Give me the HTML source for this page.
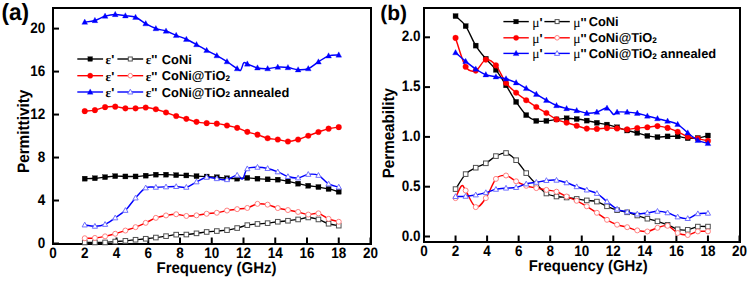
<!DOCTYPE html>
<html><head><meta charset="utf-8"><style>
html,body{margin:0;padding:0;background:#fff;width:750px;height:281px;overflow:hidden}
svg{display:block}
text{font-family:"Liberation Sans", sans-serif;fill:#000;text-rendering:geometricPrecision}
</style></head><body>
<svg width="750" height="281" viewBox="0 0 750 281">
<rect x="53.00" y="8.00" width="318.00" height="236.00" fill="none" stroke="#000" stroke-width="2"/>
<line x1="53.00" y1="243.50" x2="59.00" y2="243.50" stroke="#000" stroke-width="2"/>
<text x="0" y="0" transform="translate(45.20,247.50) scale(1,1.120)" font-size="13.50" font-weight="bold" text-anchor="end" >0</text>
<line x1="53.00" y1="200.52" x2="59.00" y2="200.52" stroke="#000" stroke-width="2"/>
<text x="0" y="0" transform="translate(45.20,204.52) scale(1,1.120)" font-size="13.50" font-weight="bold" text-anchor="end" >4</text>
<line x1="53.00" y1="157.54" x2="59.00" y2="157.54" stroke="#000" stroke-width="2"/>
<text x="0" y="0" transform="translate(45.20,161.54) scale(1,1.120)" font-size="13.50" font-weight="bold" text-anchor="end" >8</text>
<line x1="53.00" y1="114.56" x2="59.00" y2="114.56" stroke="#000" stroke-width="2"/>
<text x="0" y="0" transform="translate(45.20,118.56) scale(1,1.120)" font-size="13.50" font-weight="bold" text-anchor="end" >12</text>
<line x1="53.00" y1="71.58" x2="59.00" y2="71.58" stroke="#000" stroke-width="2"/>
<text x="0" y="0" transform="translate(45.20,75.58) scale(1,1.120)" font-size="13.50" font-weight="bold" text-anchor="end" >16</text>
<line x1="53.00" y1="28.60" x2="59.00" y2="28.60" stroke="#000" stroke-width="2"/>
<text x="0" y="0" transform="translate(45.20,32.60) scale(1,1.120)" font-size="13.50" font-weight="bold" text-anchor="end" >20</text>
<line x1="53.00" y1="244.00" x2="53.00" y2="237.50" stroke="#000" stroke-width="2"/>
<text x="0" y="0" transform="translate(53.00,257.80) scale(1,1.120)" font-size="13.50" font-weight="bold" text-anchor="middle" >0</text>
<line x1="84.75" y1="244.00" x2="84.75" y2="237.50" stroke="#000" stroke-width="2"/>
<text x="0" y="0" transform="translate(84.75,257.80) scale(1,1.120)" font-size="13.50" font-weight="bold" text-anchor="middle" >2</text>
<line x1="116.50" y1="244.00" x2="116.50" y2="237.50" stroke="#000" stroke-width="2"/>
<text x="0" y="0" transform="translate(116.50,257.80) scale(1,1.120)" font-size="13.50" font-weight="bold" text-anchor="middle" >4</text>
<line x1="148.25" y1="244.00" x2="148.25" y2="237.50" stroke="#000" stroke-width="2"/>
<text x="0" y="0" transform="translate(148.25,257.80) scale(1,1.120)" font-size="13.50" font-weight="bold" text-anchor="middle" >6</text>
<line x1="180.00" y1="244.00" x2="180.00" y2="237.50" stroke="#000" stroke-width="2"/>
<text x="0" y="0" transform="translate(180.00,257.80) scale(1,1.120)" font-size="13.50" font-weight="bold" text-anchor="middle" >8</text>
<line x1="211.75" y1="244.00" x2="211.75" y2="237.50" stroke="#000" stroke-width="2"/>
<text x="0" y="0" transform="translate(211.75,257.80) scale(1,1.120)" font-size="13.50" font-weight="bold" text-anchor="middle" >10</text>
<line x1="243.50" y1="244.00" x2="243.50" y2="237.50" stroke="#000" stroke-width="2"/>
<text x="0" y="0" transform="translate(243.50,257.80) scale(1,1.120)" font-size="13.50" font-weight="bold" text-anchor="middle" >12</text>
<line x1="275.25" y1="244.00" x2="275.25" y2="237.50" stroke="#000" stroke-width="2"/>
<text x="0" y="0" transform="translate(275.25,257.80) scale(1,1.120)" font-size="13.50" font-weight="bold" text-anchor="middle" >14</text>
<line x1="307.00" y1="244.00" x2="307.00" y2="237.50" stroke="#000" stroke-width="2"/>
<text x="0" y="0" transform="translate(307.00,257.80) scale(1,1.120)" font-size="13.50" font-weight="bold" text-anchor="middle" >16</text>
<line x1="338.75" y1="244.00" x2="338.75" y2="237.50" stroke="#000" stroke-width="2"/>
<text x="0" y="0" transform="translate(338.75,257.80) scale(1,1.120)" font-size="13.50" font-weight="bold" text-anchor="middle" >18</text>
<line x1="370.50" y1="244.00" x2="370.50" y2="237.50" stroke="#000" stroke-width="2"/>
<text x="0" y="0" transform="translate(370.50,257.80) scale(1,1.120)" font-size="13.50" font-weight="bold" text-anchor="middle" >20</text>
<rect x="424.00" y="8.00" width="316.00" height="234.00" fill="none" stroke="#000" stroke-width="2"/>
<line x1="424.00" y1="236.50" x2="430.00" y2="236.50" stroke="#000" stroke-width="2"/>
<text x="0" y="0" transform="translate(420.60,240.50) scale(1,1.120)" font-size="13.50" font-weight="bold" text-anchor="end" >0.0</text>
<line x1="424.00" y1="186.70" x2="430.00" y2="186.70" stroke="#000" stroke-width="2"/>
<text x="0" y="0" transform="translate(420.60,190.70) scale(1,1.120)" font-size="13.50" font-weight="bold" text-anchor="end" >0.5</text>
<line x1="424.00" y1="136.90" x2="430.00" y2="136.90" stroke="#000" stroke-width="2"/>
<text x="0" y="0" transform="translate(420.60,140.90) scale(1,1.120)" font-size="13.50" font-weight="bold" text-anchor="end" >1.0</text>
<line x1="424.00" y1="87.10" x2="430.00" y2="87.10" stroke="#000" stroke-width="2"/>
<text x="0" y="0" transform="translate(420.60,91.10) scale(1,1.120)" font-size="13.50" font-weight="bold" text-anchor="end" >1.5</text>
<line x1="424.00" y1="37.30" x2="430.00" y2="37.30" stroke="#000" stroke-width="2"/>
<text x="0" y="0" transform="translate(420.60,41.30) scale(1,1.120)" font-size="13.50" font-weight="bold" text-anchor="end" >2.0</text>
<line x1="424.00" y1="242.00" x2="424.00" y2="235.50" stroke="#000" stroke-width="2"/>
<text x="0" y="0" transform="translate(424.00,255.50) scale(1,1.120)" font-size="13.50" font-weight="bold" text-anchor="middle" >0</text>
<line x1="455.55" y1="242.00" x2="455.55" y2="235.50" stroke="#000" stroke-width="2"/>
<text x="0" y="0" transform="translate(455.55,255.50) scale(1,1.120)" font-size="13.50" font-weight="bold" text-anchor="middle" >2</text>
<line x1="487.10" y1="242.00" x2="487.10" y2="235.50" stroke="#000" stroke-width="2"/>
<text x="0" y="0" transform="translate(487.10,255.50) scale(1,1.120)" font-size="13.50" font-weight="bold" text-anchor="middle" >4</text>
<line x1="518.65" y1="242.00" x2="518.65" y2="235.50" stroke="#000" stroke-width="2"/>
<text x="0" y="0" transform="translate(518.65,255.50) scale(1,1.120)" font-size="13.50" font-weight="bold" text-anchor="middle" >6</text>
<line x1="550.20" y1="242.00" x2="550.20" y2="235.50" stroke="#000" stroke-width="2"/>
<text x="0" y="0" transform="translate(550.20,255.50) scale(1,1.120)" font-size="13.50" font-weight="bold" text-anchor="middle" >8</text>
<line x1="581.75" y1="242.00" x2="581.75" y2="235.50" stroke="#000" stroke-width="2"/>
<text x="0" y="0" transform="translate(581.75,255.50) scale(1,1.120)" font-size="13.50" font-weight="bold" text-anchor="middle" >10</text>
<line x1="613.30" y1="242.00" x2="613.30" y2="235.50" stroke="#000" stroke-width="2"/>
<text x="0" y="0" transform="translate(613.30,255.50) scale(1,1.120)" font-size="13.50" font-weight="bold" text-anchor="middle" >12</text>
<line x1="644.85" y1="242.00" x2="644.85" y2="235.50" stroke="#000" stroke-width="2"/>
<text x="0" y="0" transform="translate(644.85,255.50) scale(1,1.120)" font-size="13.50" font-weight="bold" text-anchor="middle" >14</text>
<line x1="676.40" y1="242.00" x2="676.40" y2="235.50" stroke="#000" stroke-width="2"/>
<text x="0" y="0" transform="translate(676.40,255.50) scale(1,1.120)" font-size="13.50" font-weight="bold" text-anchor="middle" >16</text>
<line x1="707.95" y1="242.00" x2="707.95" y2="235.50" stroke="#000" stroke-width="2"/>
<text x="0" y="0" transform="translate(707.95,255.50) scale(1,1.120)" font-size="13.50" font-weight="bold" text-anchor="middle" >18</text>
<line x1="739.50" y1="242.00" x2="739.50" y2="235.50" stroke="#000" stroke-width="2"/>
<text x="0" y="0" transform="translate(739.50,255.50) scale(1,1.120)" font-size="13.50" font-weight="bold" text-anchor="middle" >20</text>
<text x="0" y="0" transform="translate(1.40,20.30) scale(1,1.040)" font-size="22.70" font-weight="bold" text-anchor="start" >(a)</text>
<text x="0" y="0" transform="translate(380.20,19.90) scale(1,1.000)" font-size="21.00" font-weight="bold" text-anchor="start" >(b)</text>
<text x="0" y="0" transform="translate(216.50,273.40) scale(1,1.040)" font-size="15.00" font-weight="bold" text-anchor="middle" >Frequency (GHz)</text>
<text x="0" y="0" transform="translate(588.20,271.40) scale(1,1.050)" font-size="14.90" font-weight="bold" text-anchor="middle" >Frequency (GHz)</text>
<text x="0" y="0" transform="translate(28.90,131.40) rotate(-90) scale(1,1.080)" font-size="15.30" font-weight="bold" text-anchor="middle" >Permittivity</text>
<text x="0" y="0" transform="translate(393.60,133.20) rotate(-90) scale(1,1.080)" font-size="15.20" font-weight="bold" text-anchor="middle" >Permeability</text>
<path d="M84.75 178.65 C86.44 178.58 91.52 178.50 94.91 178.25 C98.30 178.00 101.68 177.50 105.07 177.15 C108.46 176.80 111.84 176.27 115.23 176.15 C118.62 176.03 122.00 176.40 125.39 176.45 C128.78 176.50 132.16 176.58 135.55 176.45 C138.94 176.32 142.32 175.95 145.71 175.65 C149.10 175.35 152.48 174.82 155.87 174.65 C159.26 174.48 162.64 174.57 166.03 174.65 C169.42 174.73 172.80 175.02 176.19 175.15 C179.58 175.28 182.96 175.28 186.35 175.45 C189.74 175.62 193.12 175.97 196.51 176.15 C199.90 176.33 203.28 176.37 206.67 176.55 C210.06 176.73 213.44 176.97 216.83 177.25 C220.22 177.53 223.60 178.02 226.99 178.25 C230.38 178.48 233.76 178.72 237.15 178.65 C240.54 178.58 243.92 177.85 247.31 177.85 C250.70 177.85 254.08 178.40 257.47 178.65 C260.86 178.90 264.24 179.18 267.63 179.35 C271.02 179.52 274.40 179.32 277.79 179.65 C281.18 179.98 284.56 180.68 287.95 181.35 C291.34 182.02 294.72 182.92 298.11 183.65 C301.50 184.38 304.88 185.18 308.27 185.75 C311.66 186.32 315.04 186.52 318.43 187.05 C321.82 187.58 325.20 188.17 328.59 188.95 C331.98 189.73 337.06 191.28 338.75 191.75" fill="none" stroke="#000" stroke-width="1.35" stroke-linejoin="round"/>
<rect x="82.25" y="176.15" width="5.00" height="5.00" fill="#000" stroke="#000" stroke-width="0.30"/>
<rect x="92.41" y="175.75" width="5.00" height="5.00" fill="#000" stroke="#000" stroke-width="0.30"/>
<rect x="102.57" y="174.65" width="5.00" height="5.00" fill="#000" stroke="#000" stroke-width="0.30"/>
<rect x="112.73" y="173.65" width="5.00" height="5.00" fill="#000" stroke="#000" stroke-width="0.30"/>
<rect x="122.89" y="173.95" width="5.00" height="5.00" fill="#000" stroke="#000" stroke-width="0.30"/>
<rect x="133.05" y="173.95" width="5.00" height="5.00" fill="#000" stroke="#000" stroke-width="0.30"/>
<rect x="143.21" y="173.15" width="5.00" height="5.00" fill="#000" stroke="#000" stroke-width="0.30"/>
<rect x="153.37" y="172.15" width="5.00" height="5.00" fill="#000" stroke="#000" stroke-width="0.30"/>
<rect x="163.53" y="172.15" width="5.00" height="5.00" fill="#000" stroke="#000" stroke-width="0.30"/>
<rect x="173.69" y="172.65" width="5.00" height="5.00" fill="#000" stroke="#000" stroke-width="0.30"/>
<rect x="183.85" y="172.95" width="5.00" height="5.00" fill="#000" stroke="#000" stroke-width="0.30"/>
<rect x="194.01" y="173.65" width="5.00" height="5.00" fill="#000" stroke="#000" stroke-width="0.30"/>
<rect x="204.17" y="174.05" width="5.00" height="5.00" fill="#000" stroke="#000" stroke-width="0.30"/>
<rect x="214.33" y="174.75" width="5.00" height="5.00" fill="#000" stroke="#000" stroke-width="0.30"/>
<rect x="224.49" y="175.75" width="5.00" height="5.00" fill="#000" stroke="#000" stroke-width="0.30"/>
<rect x="234.65" y="176.15" width="5.00" height="5.00" fill="#000" stroke="#000" stroke-width="0.30"/>
<rect x="244.81" y="175.35" width="5.00" height="5.00" fill="#000" stroke="#000" stroke-width="0.30"/>
<rect x="254.97" y="176.15" width="5.00" height="5.00" fill="#000" stroke="#000" stroke-width="0.30"/>
<rect x="265.13" y="176.85" width="5.00" height="5.00" fill="#000" stroke="#000" stroke-width="0.30"/>
<rect x="275.29" y="177.15" width="5.00" height="5.00" fill="#000" stroke="#000" stroke-width="0.30"/>
<rect x="285.45" y="178.85" width="5.00" height="5.00" fill="#000" stroke="#000" stroke-width="0.30"/>
<rect x="295.61" y="181.15" width="5.00" height="5.00" fill="#000" stroke="#000" stroke-width="0.30"/>
<rect x="305.77" y="183.25" width="5.00" height="5.00" fill="#000" stroke="#000" stroke-width="0.30"/>
<rect x="315.93" y="184.55" width="5.00" height="5.00" fill="#000" stroke="#000" stroke-width="0.30"/>
<rect x="326.09" y="186.45" width="5.00" height="5.00" fill="#000" stroke="#000" stroke-width="0.30"/>
<rect x="336.25" y="189.25" width="5.00" height="5.00" fill="#000" stroke="#000" stroke-width="0.30"/>
<path d="M84.75 242.45 C86.44 242.45 91.52 242.45 94.91 242.45 C98.30 242.45 101.68 242.60 105.07 242.45 C108.46 242.30 111.84 241.82 115.23 241.55 C118.62 241.28 122.00 241.15 125.39 240.85 C128.78 240.55 132.16 240.10 135.55 239.75 C138.94 239.40 142.32 239.12 145.71 238.75 C149.10 238.38 152.48 237.98 155.87 237.55 C159.26 237.12 162.64 236.63 166.03 236.15 C169.42 235.67 172.80 234.92 176.19 234.65 C179.58 234.38 182.96 234.77 186.35 234.55 C189.74 234.33 193.12 233.78 196.51 233.35 C199.90 232.92 203.28 232.33 206.67 231.95 C210.06 231.57 213.44 231.35 216.83 231.05 C220.22 230.75 223.60 230.65 226.99 230.15 C230.38 229.65 233.76 228.88 237.15 228.05 C240.54 227.22 243.92 225.83 247.31 225.15 C250.70 224.47 254.08 224.28 257.47 223.95 C260.86 223.62 264.24 223.52 267.63 223.15 C271.02 222.78 274.40 222.15 277.79 221.75 C281.18 221.35 284.56 221.13 287.95 220.75 C291.34 220.37 294.72 220.00 298.11 219.45 C301.50 218.90 304.88 217.45 308.27 217.45 C311.66 217.45 315.04 218.40 318.43 219.45 C321.82 220.50 325.20 222.72 328.59 223.75 C331.98 224.78 337.06 225.33 338.75 225.65" fill="none" stroke="#000" stroke-width="1.35" stroke-linejoin="round"/>
<rect x="82.45" y="240.15" width="4.60" height="4.60" fill="#fff" stroke="#505050" stroke-width="1.00"/>
<rect x="92.61" y="240.15" width="4.60" height="4.60" fill="#fff" stroke="#505050" stroke-width="1.00"/>
<rect x="102.77" y="240.15" width="4.60" height="4.60" fill="#fff" stroke="#505050" stroke-width="1.00"/>
<rect x="112.93" y="239.25" width="4.60" height="4.60" fill="#fff" stroke="#505050" stroke-width="1.00"/>
<rect x="123.09" y="238.55" width="4.60" height="4.60" fill="#fff" stroke="#505050" stroke-width="1.00"/>
<rect x="133.25" y="237.45" width="4.60" height="4.60" fill="#fff" stroke="#505050" stroke-width="1.00"/>
<rect x="143.41" y="236.45" width="4.60" height="4.60" fill="#fff" stroke="#505050" stroke-width="1.00"/>
<rect x="153.57" y="235.25" width="4.60" height="4.60" fill="#fff" stroke="#505050" stroke-width="1.00"/>
<rect x="163.73" y="233.85" width="4.60" height="4.60" fill="#fff" stroke="#505050" stroke-width="1.00"/>
<rect x="173.89" y="232.35" width="4.60" height="4.60" fill="#fff" stroke="#505050" stroke-width="1.00"/>
<rect x="184.05" y="232.25" width="4.60" height="4.60" fill="#fff" stroke="#505050" stroke-width="1.00"/>
<rect x="194.21" y="231.05" width="4.60" height="4.60" fill="#fff" stroke="#505050" stroke-width="1.00"/>
<rect x="204.37" y="229.65" width="4.60" height="4.60" fill="#fff" stroke="#505050" stroke-width="1.00"/>
<rect x="214.53" y="228.75" width="4.60" height="4.60" fill="#fff" stroke="#505050" stroke-width="1.00"/>
<rect x="224.69" y="227.85" width="4.60" height="4.60" fill="#fff" stroke="#505050" stroke-width="1.00"/>
<rect x="234.85" y="225.75" width="4.60" height="4.60" fill="#fff" stroke="#505050" stroke-width="1.00"/>
<rect x="245.01" y="222.85" width="4.60" height="4.60" fill="#fff" stroke="#505050" stroke-width="1.00"/>
<rect x="255.17" y="221.65" width="4.60" height="4.60" fill="#fff" stroke="#505050" stroke-width="1.00"/>
<rect x="265.33" y="220.85" width="4.60" height="4.60" fill="#fff" stroke="#505050" stroke-width="1.00"/>
<rect x="275.49" y="219.45" width="4.60" height="4.60" fill="#fff" stroke="#505050" stroke-width="1.00"/>
<rect x="285.65" y="218.45" width="4.60" height="4.60" fill="#fff" stroke="#505050" stroke-width="1.00"/>
<rect x="295.81" y="217.15" width="4.60" height="4.60" fill="#fff" stroke="#505050" stroke-width="1.00"/>
<rect x="305.97" y="215.15" width="4.60" height="4.60" fill="#fff" stroke="#505050" stroke-width="1.00"/>
<rect x="316.13" y="217.15" width="4.60" height="4.60" fill="#fff" stroke="#505050" stroke-width="1.00"/>
<rect x="326.29" y="221.45" width="4.60" height="4.60" fill="#fff" stroke="#505050" stroke-width="1.00"/>
<rect x="336.45" y="223.35" width="4.60" height="4.60" fill="#fff" stroke="#505050" stroke-width="1.00"/>
<path d="M84.75 111.15 C86.44 110.98 91.52 110.82 94.91 110.15 C98.30 109.48 101.68 107.73 105.07 107.15 C108.46 106.57 111.84 106.45 115.23 106.65 C118.62 106.85 122.00 108.07 125.39 108.35 C128.78 108.63 132.16 108.48 135.55 108.35 C138.94 108.22 142.32 107.40 145.71 107.55 C149.10 107.70 152.48 108.43 155.87 109.25 C159.26 110.07 162.64 111.32 166.03 112.45 C169.42 113.58 172.80 114.98 176.19 116.05 C179.58 117.12 182.96 117.88 186.35 118.85 C189.74 119.82 193.12 121.13 196.51 121.85 C199.90 122.57 203.28 122.85 206.67 123.15 C210.06 123.45 213.44 123.27 216.83 123.65 C220.22 124.03 223.60 124.75 226.99 125.45 C230.38 126.15 233.76 126.78 237.15 127.85 C240.54 128.92 243.92 130.72 247.31 131.85 C250.70 132.98 254.08 133.58 257.47 134.65 C260.86 135.72 264.24 137.43 267.63 138.25 C271.02 139.07 274.40 139.02 277.79 139.55 C281.18 140.08 284.56 141.45 287.95 141.45 C291.34 141.45 294.72 140.50 298.11 139.55 C301.50 138.60 304.88 137.00 308.27 135.75 C311.66 134.50 315.04 133.23 318.43 132.05 C321.82 130.87 325.20 129.47 328.59 128.65 C331.98 127.83 337.06 127.40 338.75 127.15" fill="none" stroke="#ff0000" stroke-width="1.45" stroke-linejoin="round"/>
<circle cx="84.75" cy="111.15" r="2.80" fill="#ff0000" stroke="#ff0000" stroke-width="0.30"/>
<circle cx="94.91" cy="110.15" r="2.80" fill="#ff0000" stroke="#ff0000" stroke-width="0.30"/>
<circle cx="105.07" cy="107.15" r="2.80" fill="#ff0000" stroke="#ff0000" stroke-width="0.30"/>
<circle cx="115.23" cy="106.65" r="2.80" fill="#ff0000" stroke="#ff0000" stroke-width="0.30"/>
<circle cx="125.39" cy="108.35" r="2.80" fill="#ff0000" stroke="#ff0000" stroke-width="0.30"/>
<circle cx="135.55" cy="108.35" r="2.80" fill="#ff0000" stroke="#ff0000" stroke-width="0.30"/>
<circle cx="145.71" cy="107.55" r="2.80" fill="#ff0000" stroke="#ff0000" stroke-width="0.30"/>
<circle cx="155.87" cy="109.25" r="2.80" fill="#ff0000" stroke="#ff0000" stroke-width="0.30"/>
<circle cx="166.03" cy="112.45" r="2.80" fill="#ff0000" stroke="#ff0000" stroke-width="0.30"/>
<circle cx="176.19" cy="116.05" r="2.80" fill="#ff0000" stroke="#ff0000" stroke-width="0.30"/>
<circle cx="186.35" cy="118.85" r="2.80" fill="#ff0000" stroke="#ff0000" stroke-width="0.30"/>
<circle cx="196.51" cy="121.85" r="2.80" fill="#ff0000" stroke="#ff0000" stroke-width="0.30"/>
<circle cx="206.67" cy="123.15" r="2.80" fill="#ff0000" stroke="#ff0000" stroke-width="0.30"/>
<circle cx="216.83" cy="123.65" r="2.80" fill="#ff0000" stroke="#ff0000" stroke-width="0.30"/>
<circle cx="226.99" cy="125.45" r="2.80" fill="#ff0000" stroke="#ff0000" stroke-width="0.30"/>
<circle cx="237.15" cy="127.85" r="2.80" fill="#ff0000" stroke="#ff0000" stroke-width="0.30"/>
<circle cx="247.31" cy="131.85" r="2.80" fill="#ff0000" stroke="#ff0000" stroke-width="0.30"/>
<circle cx="257.47" cy="134.65" r="2.80" fill="#ff0000" stroke="#ff0000" stroke-width="0.30"/>
<circle cx="267.63" cy="138.25" r="2.80" fill="#ff0000" stroke="#ff0000" stroke-width="0.30"/>
<circle cx="277.79" cy="139.55" r="2.80" fill="#ff0000" stroke="#ff0000" stroke-width="0.30"/>
<circle cx="287.95" cy="141.45" r="2.80" fill="#ff0000" stroke="#ff0000" stroke-width="0.30"/>
<circle cx="298.11" cy="139.55" r="2.80" fill="#ff0000" stroke="#ff0000" stroke-width="0.30"/>
<circle cx="308.27" cy="135.75" r="2.80" fill="#ff0000" stroke="#ff0000" stroke-width="0.30"/>
<circle cx="318.43" cy="132.05" r="2.80" fill="#ff0000" stroke="#ff0000" stroke-width="0.30"/>
<circle cx="328.59" cy="128.65" r="2.80" fill="#ff0000" stroke="#ff0000" stroke-width="0.30"/>
<circle cx="338.75" cy="127.15" r="2.80" fill="#ff0000" stroke="#ff0000" stroke-width="0.30"/>
<path d="M84.75 238.25 C86.44 238.20 91.52 238.27 94.91 237.95 C98.30 237.63 101.68 237.05 105.07 236.35 C108.46 235.65 111.84 234.72 115.23 233.75 C118.62 232.78 122.00 231.65 125.39 230.55 C128.78 229.45 132.16 228.43 135.55 227.15 C138.94 225.87 142.32 224.40 145.71 222.85 C149.10 221.30 152.48 219.08 155.87 217.85 C159.26 216.62 162.64 216.05 166.03 215.45 C169.42 214.85 172.80 214.17 176.19 214.25 C179.58 214.33 182.96 215.77 186.35 215.95 C189.74 216.13 193.12 215.72 196.51 215.35 C199.90 214.98 203.28 214.18 206.67 213.75 C210.06 213.32 213.44 213.28 216.83 212.75 C220.22 212.22 223.60 211.15 226.99 210.55 C230.38 209.95 233.76 209.58 237.15 209.15 C240.54 208.72 243.92 208.83 247.31 207.95 C250.70 207.07 254.08 204.40 257.47 203.85 C260.86 203.30 264.24 203.95 267.63 204.65 C271.02 205.35 274.40 207.15 277.79 208.05 C281.18 208.95 284.56 209.40 287.95 210.05 C291.34 210.70 294.72 211.20 298.11 211.95 C301.50 212.70 304.88 214.32 308.27 214.55 C311.66 214.78 315.04 212.63 318.43 213.35 C321.82 214.07 325.20 217.45 328.59 218.85 C331.98 220.25 337.06 221.27 338.75 221.75" fill="none" stroke="#ff0000" stroke-width="1.45" stroke-linejoin="round"/>
<circle cx="84.75" cy="238.25" r="2.50" fill="#fff" stroke="#ff8080" stroke-width="1.00"/>
<circle cx="94.91" cy="237.95" r="2.50" fill="#fff" stroke="#ff8080" stroke-width="1.00"/>
<circle cx="105.07" cy="236.35" r="2.50" fill="#fff" stroke="#ff8080" stroke-width="1.00"/>
<circle cx="115.23" cy="233.75" r="2.50" fill="#fff" stroke="#ff8080" stroke-width="1.00"/>
<circle cx="125.39" cy="230.55" r="2.50" fill="#fff" stroke="#ff8080" stroke-width="1.00"/>
<circle cx="135.55" cy="227.15" r="2.50" fill="#fff" stroke="#ff8080" stroke-width="1.00"/>
<circle cx="145.71" cy="222.85" r="2.50" fill="#fff" stroke="#ff8080" stroke-width="1.00"/>
<circle cx="155.87" cy="217.85" r="2.50" fill="#fff" stroke="#ff8080" stroke-width="1.00"/>
<circle cx="166.03" cy="215.45" r="2.50" fill="#fff" stroke="#ff8080" stroke-width="1.00"/>
<circle cx="176.19" cy="214.25" r="2.50" fill="#fff" stroke="#ff8080" stroke-width="1.00"/>
<circle cx="186.35" cy="215.95" r="2.50" fill="#fff" stroke="#ff8080" stroke-width="1.00"/>
<circle cx="196.51" cy="215.35" r="2.50" fill="#fff" stroke="#ff8080" stroke-width="1.00"/>
<circle cx="206.67" cy="213.75" r="2.50" fill="#fff" stroke="#ff8080" stroke-width="1.00"/>
<circle cx="216.83" cy="212.75" r="2.50" fill="#fff" stroke="#ff8080" stroke-width="1.00"/>
<circle cx="226.99" cy="210.55" r="2.50" fill="#fff" stroke="#ff8080" stroke-width="1.00"/>
<circle cx="237.15" cy="209.15" r="2.50" fill="#fff" stroke="#ff8080" stroke-width="1.00"/>
<circle cx="247.31" cy="207.95" r="2.50" fill="#fff" stroke="#ff8080" stroke-width="1.00"/>
<circle cx="257.47" cy="203.85" r="2.50" fill="#fff" stroke="#ff8080" stroke-width="1.00"/>
<circle cx="267.63" cy="204.65" r="2.50" fill="#fff" stroke="#ff8080" stroke-width="1.00"/>
<circle cx="277.79" cy="208.05" r="2.50" fill="#fff" stroke="#ff8080" stroke-width="1.00"/>
<circle cx="287.95" cy="210.05" r="2.50" fill="#fff" stroke="#ff8080" stroke-width="1.00"/>
<circle cx="298.11" cy="211.95" r="2.50" fill="#fff" stroke="#ff8080" stroke-width="1.00"/>
<circle cx="308.27" cy="214.55" r="2.50" fill="#fff" stroke="#ff8080" stroke-width="1.00"/>
<circle cx="318.43" cy="213.35" r="2.50" fill="#fff" stroke="#ff8080" stroke-width="1.00"/>
<circle cx="328.59" cy="218.85" r="2.50" fill="#fff" stroke="#ff8080" stroke-width="1.00"/>
<circle cx="338.75" cy="221.75" r="2.50" fill="#fff" stroke="#ff8080" stroke-width="1.00"/>
<path d="M84.75 22.15 C86.44 21.87 91.52 21.45 94.91 20.45 C98.30 19.45 101.68 17.15 105.07 16.15 C108.46 15.15 111.84 14.52 115.23 14.45 C118.62 14.38 122.00 15.28 125.39 15.75 C128.78 16.22 132.16 15.93 135.55 17.25 C138.94 18.57 142.32 21.77 145.71 23.65 C149.10 25.53 152.48 27.32 155.87 28.55 C159.26 29.78 162.64 29.92 166.03 31.05 C169.42 32.18 172.80 33.98 176.19 35.35 C179.58 36.72 182.96 37.72 186.35 39.25 C189.74 40.78 193.12 42.70 196.51 44.55 C199.90 46.40 203.28 48.50 206.67 50.35 C210.06 52.20 213.44 53.77 216.83 55.65 C220.22 57.53 223.60 59.48 226.99 61.65 C230.38 63.82 234.88 67.20 237.15 68.65 C239.42 70.10 239.49 71.32 240.60 70.35 C241.71 69.38 242.68 63.92 243.80 62.85 C244.92 61.78 245.03 63.12 247.31 63.95 C249.59 64.78 254.08 67.07 257.47 67.85 C260.86 68.63 264.24 68.77 267.63 68.65 C271.02 68.53 274.40 67.33 277.79 67.15 C281.18 66.97 284.56 67.12 287.95 67.55 C291.34 67.98 294.72 69.57 298.11 69.75 C301.50 69.93 304.88 69.97 308.27 68.65 C311.66 67.33 315.04 63.98 318.43 61.85 C321.82 59.72 325.20 57.00 328.59 55.85 C331.98 54.70 337.06 55.10 338.75 54.95" fill="none" stroke="#0000ff" stroke-width="1.45" stroke-linejoin="round"/>
<polygon points="84.75,19.05 87.65,24.35 81.85,24.35" fill="#0000ff" stroke="#0000ff" stroke-width="0.30" stroke-linejoin="round"/>
<polygon points="94.91,17.35 97.81,22.65 92.01,22.65" fill="#0000ff" stroke="#0000ff" stroke-width="0.30" stroke-linejoin="round"/>
<polygon points="105.07,13.05 107.97,18.35 102.17,18.35" fill="#0000ff" stroke="#0000ff" stroke-width="0.30" stroke-linejoin="round"/>
<polygon points="115.23,11.35 118.13,16.65 112.33,16.65" fill="#0000ff" stroke="#0000ff" stroke-width="0.30" stroke-linejoin="round"/>
<polygon points="125.39,12.65 128.29,17.95 122.49,17.95" fill="#0000ff" stroke="#0000ff" stroke-width="0.30" stroke-linejoin="round"/>
<polygon points="135.55,14.15 138.45,19.45 132.65,19.45" fill="#0000ff" stroke="#0000ff" stroke-width="0.30" stroke-linejoin="round"/>
<polygon points="145.71,20.55 148.61,25.85 142.81,25.85" fill="#0000ff" stroke="#0000ff" stroke-width="0.30" stroke-linejoin="round"/>
<polygon points="155.87,25.45 158.77,30.75 152.97,30.75" fill="#0000ff" stroke="#0000ff" stroke-width="0.30" stroke-linejoin="round"/>
<polygon points="166.03,27.95 168.93,33.25 163.13,33.25" fill="#0000ff" stroke="#0000ff" stroke-width="0.30" stroke-linejoin="round"/>
<polygon points="176.19,32.25 179.09,37.55 173.29,37.55" fill="#0000ff" stroke="#0000ff" stroke-width="0.30" stroke-linejoin="round"/>
<polygon points="186.35,36.15 189.25,41.45 183.45,41.45" fill="#0000ff" stroke="#0000ff" stroke-width="0.30" stroke-linejoin="round"/>
<polygon points="196.51,41.45 199.41,46.75 193.61,46.75" fill="#0000ff" stroke="#0000ff" stroke-width="0.30" stroke-linejoin="round"/>
<polygon points="206.67,47.25 209.57,52.55 203.77,52.55" fill="#0000ff" stroke="#0000ff" stroke-width="0.30" stroke-linejoin="round"/>
<polygon points="216.83,52.55 219.73,57.85 213.93,57.85" fill="#0000ff" stroke="#0000ff" stroke-width="0.30" stroke-linejoin="round"/>
<polygon points="226.99,58.55 229.89,63.85 224.09,63.85" fill="#0000ff" stroke="#0000ff" stroke-width="0.30" stroke-linejoin="round"/>
<polygon points="237.15,65.55 240.05,70.85 234.25,70.85" fill="#0000ff" stroke="#0000ff" stroke-width="0.30" stroke-linejoin="round"/>
<polygon points="247.31,60.85 250.21,66.15 244.41,66.15" fill="#0000ff" stroke="#0000ff" stroke-width="0.30" stroke-linejoin="round"/>
<polygon points="257.47,64.75 260.37,70.05 254.57,70.05" fill="#0000ff" stroke="#0000ff" stroke-width="0.30" stroke-linejoin="round"/>
<polygon points="267.63,65.55 270.53,70.85 264.73,70.85" fill="#0000ff" stroke="#0000ff" stroke-width="0.30" stroke-linejoin="round"/>
<polygon points="277.79,64.05 280.69,69.35 274.89,69.35" fill="#0000ff" stroke="#0000ff" stroke-width="0.30" stroke-linejoin="round"/>
<polygon points="287.95,64.45 290.85,69.75 285.05,69.75" fill="#0000ff" stroke="#0000ff" stroke-width="0.30" stroke-linejoin="round"/>
<polygon points="298.11,66.65 301.01,71.95 295.21,71.95" fill="#0000ff" stroke="#0000ff" stroke-width="0.30" stroke-linejoin="round"/>
<polygon points="308.27,65.55 311.17,70.85 305.37,70.85" fill="#0000ff" stroke="#0000ff" stroke-width="0.30" stroke-linejoin="round"/>
<polygon points="318.43,58.75 321.33,64.05 315.53,64.05" fill="#0000ff" stroke="#0000ff" stroke-width="0.30" stroke-linejoin="round"/>
<polygon points="328.59,52.75 331.49,58.05 325.69,58.05" fill="#0000ff" stroke="#0000ff" stroke-width="0.30" stroke-linejoin="round"/>
<polygon points="338.75,51.85 341.65,57.15 335.85,57.15" fill="#0000ff" stroke="#0000ff" stroke-width="0.30" stroke-linejoin="round"/>
<path d="M84.75 224.95 C86.44 225.17 91.52 226.35 94.91 226.25 C98.30 226.15 101.68 225.75 105.07 224.35 C108.46 222.95 111.84 220.18 115.23 217.85 C118.62 215.52 122.00 213.67 125.39 210.35 C128.78 207.03 132.16 201.70 135.55 197.95 C138.94 194.20 142.32 189.63 145.71 187.85 C149.10 186.07 152.48 187.42 155.87 187.25 C159.26 187.08 162.64 186.97 166.03 186.85 C169.42 186.73 172.80 186.48 176.19 186.55 C179.58 186.62 182.96 188.03 186.35 187.25 C189.74 186.47 193.12 183.52 196.51 181.85 C199.90 180.18 203.28 177.78 206.67 177.25 C210.06 176.72 213.44 178.25 216.83 178.65 C220.22 179.05 223.60 180.23 226.99 179.65 C230.38 179.07 234.55 175.27 237.15 175.15 C239.75 175.03 240.91 180.02 242.60 178.95 C244.29 177.88 244.83 170.70 247.31 168.75 C249.79 166.80 254.08 167.30 257.47 167.25 C260.86 167.20 264.24 167.68 267.63 168.45 C271.02 169.22 274.40 170.50 277.79 171.85 C281.18 173.20 284.56 175.53 287.95 176.55 C291.34 177.57 294.72 178.32 298.11 177.95 C301.50 177.58 304.88 174.78 308.27 174.35 C311.66 173.92 315.04 173.75 318.43 175.35 C321.82 176.95 325.20 182.00 328.59 183.95 C331.98 185.90 337.06 186.53 338.75 187.05" fill="none" stroke="#0000ff" stroke-width="1.45" stroke-linejoin="round"/>
<polygon points="84.75,222.16 87.36,226.93 82.14,226.93" fill="#fff" stroke="#7070ff" stroke-width="1.00" stroke-linejoin="round"/>
<polygon points="94.91,223.46 97.52,228.23 92.30,228.23" fill="#fff" stroke="#7070ff" stroke-width="1.00" stroke-linejoin="round"/>
<polygon points="105.07,221.56 107.68,226.33 102.46,226.33" fill="#fff" stroke="#7070ff" stroke-width="1.00" stroke-linejoin="round"/>
<polygon points="115.23,215.06 117.84,219.83 112.62,219.83" fill="#fff" stroke="#7070ff" stroke-width="1.00" stroke-linejoin="round"/>
<polygon points="125.39,207.56 128.00,212.33 122.78,212.33" fill="#fff" stroke="#7070ff" stroke-width="1.00" stroke-linejoin="round"/>
<polygon points="135.55,195.16 138.16,199.93 132.94,199.93" fill="#fff" stroke="#7070ff" stroke-width="1.00" stroke-linejoin="round"/>
<polygon points="145.71,185.06 148.32,189.83 143.10,189.83" fill="#fff" stroke="#7070ff" stroke-width="1.00" stroke-linejoin="round"/>
<polygon points="155.87,184.46 158.48,189.23 153.26,189.23" fill="#fff" stroke="#7070ff" stroke-width="1.00" stroke-linejoin="round"/>
<polygon points="166.03,184.06 168.64,188.83 163.42,188.83" fill="#fff" stroke="#7070ff" stroke-width="1.00" stroke-linejoin="round"/>
<polygon points="176.19,183.76 178.80,188.53 173.58,188.53" fill="#fff" stroke="#7070ff" stroke-width="1.00" stroke-linejoin="round"/>
<polygon points="186.35,184.46 188.96,189.23 183.74,189.23" fill="#fff" stroke="#7070ff" stroke-width="1.00" stroke-linejoin="round"/>
<polygon points="196.51,179.06 199.12,183.83 193.90,183.83" fill="#fff" stroke="#7070ff" stroke-width="1.00" stroke-linejoin="round"/>
<polygon points="206.67,174.46 209.28,179.23 204.06,179.23" fill="#fff" stroke="#7070ff" stroke-width="1.00" stroke-linejoin="round"/>
<polygon points="216.83,175.86 219.44,180.63 214.22,180.63" fill="#fff" stroke="#7070ff" stroke-width="1.00" stroke-linejoin="round"/>
<polygon points="226.99,176.86 229.60,181.63 224.38,181.63" fill="#fff" stroke="#7070ff" stroke-width="1.00" stroke-linejoin="round"/>
<polygon points="237.15,172.36 239.76,177.13 234.54,177.13" fill="#fff" stroke="#7070ff" stroke-width="1.00" stroke-linejoin="round"/>
<polygon points="247.31,165.96 249.92,170.73 244.70,170.73" fill="#fff" stroke="#7070ff" stroke-width="1.00" stroke-linejoin="round"/>
<polygon points="257.47,164.46 260.08,169.23 254.86,169.23" fill="#fff" stroke="#7070ff" stroke-width="1.00" stroke-linejoin="round"/>
<polygon points="267.63,165.66 270.24,170.43 265.02,170.43" fill="#fff" stroke="#7070ff" stroke-width="1.00" stroke-linejoin="round"/>
<polygon points="277.79,169.06 280.40,173.83 275.18,173.83" fill="#fff" stroke="#7070ff" stroke-width="1.00" stroke-linejoin="round"/>
<polygon points="287.95,173.76 290.56,178.53 285.34,178.53" fill="#fff" stroke="#7070ff" stroke-width="1.00" stroke-linejoin="round"/>
<polygon points="298.11,175.16 300.72,179.93 295.50,179.93" fill="#fff" stroke="#7070ff" stroke-width="1.00" stroke-linejoin="round"/>
<polygon points="308.27,171.56 310.88,176.33 305.66,176.33" fill="#fff" stroke="#7070ff" stroke-width="1.00" stroke-linejoin="round"/>
<polygon points="318.43,172.56 321.04,177.33 315.82,177.33" fill="#fff" stroke="#7070ff" stroke-width="1.00" stroke-linejoin="round"/>
<polygon points="328.59,181.16 331.20,185.93 325.98,185.93" fill="#fff" stroke="#7070ff" stroke-width="1.00" stroke-linejoin="round"/>
<polygon points="338.75,184.26 341.36,189.03 336.14,189.03" fill="#fff" stroke="#7070ff" stroke-width="1.00" stroke-linejoin="round"/>
<path d="M455.55 16.10 C457.23 17.77 462.28 21.18 465.65 26.10 C469.01 31.02 472.38 40.15 475.74 45.60 C479.11 51.05 482.47 54.77 485.84 58.80 C489.20 62.83 492.57 65.38 495.93 69.80 C499.30 74.22 502.66 79.95 506.03 85.30 C509.40 90.65 512.76 96.93 516.13 101.90 C519.49 106.87 522.86 111.93 526.22 115.10 C529.59 118.27 532.95 119.93 536.32 120.90 C539.68 121.87 543.05 121.15 546.41 120.90 C549.78 120.65 553.14 119.83 556.51 119.40 C559.88 118.97 563.24 118.37 566.61 118.30 C569.97 118.23 573.34 118.62 576.70 119.00 C580.07 119.38 583.43 119.97 586.80 120.60 C590.16 121.23 593.53 122.13 596.89 122.80 C600.26 123.47 603.62 123.85 606.99 124.60 C610.36 125.35 613.72 126.32 617.09 127.30 C620.45 128.28 623.82 129.57 627.18 130.50 C630.55 131.43 633.91 132.00 637.28 132.90 C640.64 133.80 644.01 135.20 647.37 135.90 C650.74 136.60 654.10 137.02 657.47 137.10 C660.84 137.18 664.20 136.52 667.57 136.40 C670.93 136.28 674.30 136.10 677.66 136.40 C681.03 136.70 684.39 137.93 687.76 138.20 C691.12 138.47 694.49 138.45 697.85 138.00 C701.22 137.55 706.27 135.92 707.95 135.50" fill="none" stroke="#000" stroke-width="1.35" stroke-linejoin="round"/>
<rect x="453.05" y="13.60" width="5.00" height="5.00" fill="#000" stroke="#000" stroke-width="0.30"/>
<rect x="463.15" y="23.60" width="5.00" height="5.00" fill="#000" stroke="#000" stroke-width="0.30"/>
<rect x="473.24" y="43.10" width="5.00" height="5.00" fill="#000" stroke="#000" stroke-width="0.30"/>
<rect x="483.34" y="56.30" width="5.00" height="5.00" fill="#000" stroke="#000" stroke-width="0.30"/>
<rect x="493.43" y="67.30" width="5.00" height="5.00" fill="#000" stroke="#000" stroke-width="0.30"/>
<rect x="503.53" y="82.80" width="5.00" height="5.00" fill="#000" stroke="#000" stroke-width="0.30"/>
<rect x="513.63" y="99.40" width="5.00" height="5.00" fill="#000" stroke="#000" stroke-width="0.30"/>
<rect x="523.72" y="112.60" width="5.00" height="5.00" fill="#000" stroke="#000" stroke-width="0.30"/>
<rect x="533.82" y="118.40" width="5.00" height="5.00" fill="#000" stroke="#000" stroke-width="0.30"/>
<rect x="543.91" y="118.40" width="5.00" height="5.00" fill="#000" stroke="#000" stroke-width="0.30"/>
<rect x="554.01" y="116.90" width="5.00" height="5.00" fill="#000" stroke="#000" stroke-width="0.30"/>
<rect x="564.11" y="115.80" width="5.00" height="5.00" fill="#000" stroke="#000" stroke-width="0.30"/>
<rect x="574.20" y="116.50" width="5.00" height="5.00" fill="#000" stroke="#000" stroke-width="0.30"/>
<rect x="584.30" y="118.10" width="5.00" height="5.00" fill="#000" stroke="#000" stroke-width="0.30"/>
<rect x="594.39" y="120.30" width="5.00" height="5.00" fill="#000" stroke="#000" stroke-width="0.30"/>
<rect x="604.49" y="122.10" width="5.00" height="5.00" fill="#000" stroke="#000" stroke-width="0.30"/>
<rect x="614.59" y="124.80" width="5.00" height="5.00" fill="#000" stroke="#000" stroke-width="0.30"/>
<rect x="624.68" y="128.00" width="5.00" height="5.00" fill="#000" stroke="#000" stroke-width="0.30"/>
<rect x="634.78" y="130.40" width="5.00" height="5.00" fill="#000" stroke="#000" stroke-width="0.30"/>
<rect x="644.87" y="133.40" width="5.00" height="5.00" fill="#000" stroke="#000" stroke-width="0.30"/>
<rect x="654.97" y="134.60" width="5.00" height="5.00" fill="#000" stroke="#000" stroke-width="0.30"/>
<rect x="665.07" y="133.90" width="5.00" height="5.00" fill="#000" stroke="#000" stroke-width="0.30"/>
<rect x="675.16" y="133.90" width="5.00" height="5.00" fill="#000" stroke="#000" stroke-width="0.30"/>
<rect x="685.26" y="135.70" width="5.00" height="5.00" fill="#000" stroke="#000" stroke-width="0.30"/>
<rect x="695.35" y="135.50" width="5.00" height="5.00" fill="#000" stroke="#000" stroke-width="0.30"/>
<rect x="705.45" y="133.00" width="5.00" height="5.00" fill="#000" stroke="#000" stroke-width="0.30"/>
<path d="M455.55 189.10 C457.23 186.60 462.28 177.67 465.65 174.10 C469.01 170.53 472.38 169.50 475.74 167.70 C479.11 165.90 482.47 165.23 485.84 163.30 C489.20 161.37 492.57 157.82 495.93 156.10 C499.30 154.38 502.66 152.32 506.03 153.00 C509.40 153.68 512.76 156.85 516.13 160.20 C519.49 163.55 522.86 169.08 526.22 173.10 C529.59 177.12 532.95 180.90 536.32 184.30 C539.68 187.70 543.05 191.47 546.41 193.50 C549.78 195.53 553.14 195.83 556.51 196.50 C559.88 197.17 563.24 197.10 566.61 197.50 C569.97 197.90 573.34 198.42 576.70 198.90 C580.07 199.38 583.43 199.95 586.80 200.40 C590.16 200.85 593.53 200.62 596.89 201.60 C600.26 202.58 603.62 204.87 606.99 206.30 C610.36 207.73 613.72 209.20 617.09 210.20 C620.45 211.20 623.82 211.42 627.18 212.30 C630.55 213.18 633.91 214.43 637.28 215.50 C640.64 216.57 644.01 217.73 647.37 218.70 C650.74 219.67 654.10 220.28 657.47 221.30 C660.84 222.32 664.20 223.47 667.57 224.80 C670.93 226.13 674.30 228.47 677.66 229.30 C681.03 230.13 684.39 230.25 687.76 229.80 C691.12 229.35 694.49 227.13 697.85 226.60 C701.22 226.07 706.27 226.60 707.95 226.60" fill="none" stroke="#000" stroke-width="1.35" stroke-linejoin="round"/>
<rect x="453.25" y="186.80" width="4.60" height="4.60" fill="#fff" stroke="#505050" stroke-width="1.00"/>
<rect x="463.35" y="171.80" width="4.60" height="4.60" fill="#fff" stroke="#505050" stroke-width="1.00"/>
<rect x="473.44" y="165.40" width="4.60" height="4.60" fill="#fff" stroke="#505050" stroke-width="1.00"/>
<rect x="483.54" y="161.00" width="4.60" height="4.60" fill="#fff" stroke="#505050" stroke-width="1.00"/>
<rect x="493.63" y="153.80" width="4.60" height="4.60" fill="#fff" stroke="#505050" stroke-width="1.00"/>
<rect x="503.73" y="150.70" width="4.60" height="4.60" fill="#fff" stroke="#505050" stroke-width="1.00"/>
<rect x="513.83" y="157.90" width="4.60" height="4.60" fill="#fff" stroke="#505050" stroke-width="1.00"/>
<rect x="523.92" y="170.80" width="4.60" height="4.60" fill="#fff" stroke="#505050" stroke-width="1.00"/>
<rect x="534.02" y="182.00" width="4.60" height="4.60" fill="#fff" stroke="#505050" stroke-width="1.00"/>
<rect x="544.11" y="191.20" width="4.60" height="4.60" fill="#fff" stroke="#505050" stroke-width="1.00"/>
<rect x="554.21" y="194.20" width="4.60" height="4.60" fill="#fff" stroke="#505050" stroke-width="1.00"/>
<rect x="564.31" y="195.20" width="4.60" height="4.60" fill="#fff" stroke="#505050" stroke-width="1.00"/>
<rect x="574.40" y="196.60" width="4.60" height="4.60" fill="#fff" stroke="#505050" stroke-width="1.00"/>
<rect x="584.50" y="198.10" width="4.60" height="4.60" fill="#fff" stroke="#505050" stroke-width="1.00"/>
<rect x="594.59" y="199.30" width="4.60" height="4.60" fill="#fff" stroke="#505050" stroke-width="1.00"/>
<rect x="604.69" y="204.00" width="4.60" height="4.60" fill="#fff" stroke="#505050" stroke-width="1.00"/>
<rect x="614.79" y="207.90" width="4.60" height="4.60" fill="#fff" stroke="#505050" stroke-width="1.00"/>
<rect x="624.88" y="210.00" width="4.60" height="4.60" fill="#fff" stroke="#505050" stroke-width="1.00"/>
<rect x="634.98" y="213.20" width="4.60" height="4.60" fill="#fff" stroke="#505050" stroke-width="1.00"/>
<rect x="645.07" y="216.40" width="4.60" height="4.60" fill="#fff" stroke="#505050" stroke-width="1.00"/>
<rect x="655.17" y="219.00" width="4.60" height="4.60" fill="#fff" stroke="#505050" stroke-width="1.00"/>
<rect x="665.27" y="222.50" width="4.60" height="4.60" fill="#fff" stroke="#505050" stroke-width="1.00"/>
<rect x="675.36" y="227.00" width="4.60" height="4.60" fill="#fff" stroke="#505050" stroke-width="1.00"/>
<rect x="685.46" y="227.50" width="4.60" height="4.60" fill="#fff" stroke="#505050" stroke-width="1.00"/>
<rect x="695.55" y="224.30" width="4.60" height="4.60" fill="#fff" stroke="#505050" stroke-width="1.00"/>
<rect x="705.65" y="224.30" width="4.60" height="4.60" fill="#fff" stroke="#505050" stroke-width="1.00"/>
<path d="M455.55 37.90 C457.23 42.70 462.28 61.25 465.65 66.70 C469.01 72.15 472.38 71.78 475.74 70.60 C479.11 69.42 482.47 60.47 485.84 59.60 C489.20 58.73 492.57 61.50 495.93 65.40 C499.30 69.30 502.66 78.45 506.03 83.00 C509.40 87.55 512.76 89.83 516.13 92.70 C519.49 95.57 522.86 97.82 526.22 100.20 C529.59 102.58 532.95 104.87 536.32 107.00 C539.68 109.13 543.05 110.93 546.41 113.00 C549.78 115.07 553.14 117.78 556.51 119.40 C559.88 121.02 563.24 121.65 566.61 122.70 C569.97 123.75 573.34 124.72 576.70 125.70 C580.07 126.68 583.43 128.07 586.80 128.60 C590.16 129.13 593.53 128.98 596.89 128.90 C600.26 128.82 603.62 128.18 606.99 128.10 C610.36 128.02 613.72 128.18 617.09 128.40 C620.45 128.62 623.82 129.47 627.18 129.40 C630.55 129.33 633.91 128.35 637.28 128.00 C640.64 127.65 644.01 127.62 647.37 127.30 C650.74 126.98 654.10 126.00 657.47 126.10 C660.84 126.20 664.20 126.95 667.57 127.90 C670.93 128.85 674.30 130.32 677.66 131.80 C681.03 133.28 684.39 135.67 687.76 136.80 C691.12 137.93 694.49 137.92 697.85 138.60 C701.22 139.28 706.27 140.52 707.95 140.90" fill="none" stroke="#ff0000" stroke-width="1.45" stroke-linejoin="round"/>
<circle cx="455.55" cy="37.90" r="2.80" fill="#ff0000" stroke="#ff0000" stroke-width="0.30"/>
<circle cx="465.65" cy="66.70" r="2.80" fill="#ff0000" stroke="#ff0000" stroke-width="0.30"/>
<circle cx="475.74" cy="70.60" r="2.80" fill="#ff0000" stroke="#ff0000" stroke-width="0.30"/>
<circle cx="485.84" cy="59.60" r="2.80" fill="#ff0000" stroke="#ff0000" stroke-width="0.30"/>
<circle cx="495.93" cy="65.40" r="2.80" fill="#ff0000" stroke="#ff0000" stroke-width="0.30"/>
<circle cx="506.03" cy="83.00" r="2.80" fill="#ff0000" stroke="#ff0000" stroke-width="0.30"/>
<circle cx="516.13" cy="92.70" r="2.80" fill="#ff0000" stroke="#ff0000" stroke-width="0.30"/>
<circle cx="526.22" cy="100.20" r="2.80" fill="#ff0000" stroke="#ff0000" stroke-width="0.30"/>
<circle cx="536.32" cy="107.00" r="2.80" fill="#ff0000" stroke="#ff0000" stroke-width="0.30"/>
<circle cx="546.41" cy="113.00" r="2.80" fill="#ff0000" stroke="#ff0000" stroke-width="0.30"/>
<circle cx="556.51" cy="119.40" r="2.80" fill="#ff0000" stroke="#ff0000" stroke-width="0.30"/>
<circle cx="566.61" cy="122.70" r="2.80" fill="#ff0000" stroke="#ff0000" stroke-width="0.30"/>
<circle cx="576.70" cy="125.70" r="2.80" fill="#ff0000" stroke="#ff0000" stroke-width="0.30"/>
<circle cx="586.80" cy="128.60" r="2.80" fill="#ff0000" stroke="#ff0000" stroke-width="0.30"/>
<circle cx="596.89" cy="128.90" r="2.80" fill="#ff0000" stroke="#ff0000" stroke-width="0.30"/>
<circle cx="606.99" cy="128.10" r="2.80" fill="#ff0000" stroke="#ff0000" stroke-width="0.30"/>
<circle cx="617.09" cy="128.40" r="2.80" fill="#ff0000" stroke="#ff0000" stroke-width="0.30"/>
<circle cx="627.18" cy="129.40" r="2.80" fill="#ff0000" stroke="#ff0000" stroke-width="0.30"/>
<circle cx="637.28" cy="128.00" r="2.80" fill="#ff0000" stroke="#ff0000" stroke-width="0.30"/>
<circle cx="647.37" cy="127.30" r="2.80" fill="#ff0000" stroke="#ff0000" stroke-width="0.30"/>
<circle cx="657.47" cy="126.10" r="2.80" fill="#ff0000" stroke="#ff0000" stroke-width="0.30"/>
<circle cx="667.57" cy="127.90" r="2.80" fill="#ff0000" stroke="#ff0000" stroke-width="0.30"/>
<circle cx="677.66" cy="131.80" r="2.80" fill="#ff0000" stroke="#ff0000" stroke-width="0.30"/>
<circle cx="687.76" cy="136.80" r="2.80" fill="#ff0000" stroke="#ff0000" stroke-width="0.30"/>
<circle cx="697.85" cy="138.60" r="2.80" fill="#ff0000" stroke="#ff0000" stroke-width="0.30"/>
<circle cx="707.95" cy="140.90" r="2.80" fill="#ff0000" stroke="#ff0000" stroke-width="0.30"/>
<path d="M455.55 198.10 C456.54 196.05 459.82 187.07 461.50 185.80 C463.18 184.53 463.27 186.95 465.65 190.50 C468.02 194.05 472.38 205.83 475.74 207.10 C479.11 208.37 482.47 202.80 485.84 198.10 C489.20 193.40 492.57 182.67 495.93 178.90 C499.30 175.13 502.66 175.10 506.03 175.50 C509.40 175.90 512.76 179.58 516.13 181.30 C519.49 183.02 522.86 184.67 526.22 185.80 C529.59 186.93 532.95 187.42 536.32 188.10 C539.68 188.78 543.05 189.30 546.41 189.90 C549.78 190.50 553.14 190.60 556.51 191.70 C559.88 192.80 563.24 194.98 566.61 196.50 C569.97 198.02 573.34 199.17 576.70 200.80 C580.07 202.43 583.43 204.30 586.80 206.30 C590.16 208.30 593.53 210.55 596.89 212.80 C600.26 215.05 603.62 217.82 606.99 219.80 C610.36 221.78 613.72 223.47 617.09 224.70 C620.45 225.93 623.82 226.25 627.18 227.20 C630.55 228.15 633.91 229.68 637.28 230.40 C640.64 231.12 644.01 231.93 647.37 231.50 C650.74 231.07 654.10 228.75 657.47 227.80 C660.84 226.85 664.20 224.93 667.57 225.80 C670.93 226.67 674.30 231.47 677.66 233.00 C681.03 234.53 684.39 235.27 687.76 235.00 C691.12 234.73 694.49 232.00 697.85 231.40 C701.22 230.80 706.27 231.40 707.95 231.40" fill="none" stroke="#ff0000" stroke-width="1.45" stroke-linejoin="round"/>
<circle cx="455.55" cy="198.10" r="2.50" fill="#fff" stroke="#ff8080" stroke-width="1.00"/>
<circle cx="465.65" cy="190.50" r="2.50" fill="#fff" stroke="#ff8080" stroke-width="1.00"/>
<circle cx="475.74" cy="207.10" r="2.50" fill="#fff" stroke="#ff8080" stroke-width="1.00"/>
<circle cx="485.84" cy="198.10" r="2.50" fill="#fff" stroke="#ff8080" stroke-width="1.00"/>
<circle cx="495.93" cy="178.90" r="2.50" fill="#fff" stroke="#ff8080" stroke-width="1.00"/>
<circle cx="506.03" cy="175.50" r="2.50" fill="#fff" stroke="#ff8080" stroke-width="1.00"/>
<circle cx="516.13" cy="181.30" r="2.50" fill="#fff" stroke="#ff8080" stroke-width="1.00"/>
<circle cx="526.22" cy="185.80" r="2.50" fill="#fff" stroke="#ff8080" stroke-width="1.00"/>
<circle cx="536.32" cy="188.10" r="2.50" fill="#fff" stroke="#ff8080" stroke-width="1.00"/>
<circle cx="546.41" cy="189.90" r="2.50" fill="#fff" stroke="#ff8080" stroke-width="1.00"/>
<circle cx="556.51" cy="191.70" r="2.50" fill="#fff" stroke="#ff8080" stroke-width="1.00"/>
<circle cx="566.61" cy="196.50" r="2.50" fill="#fff" stroke="#ff8080" stroke-width="1.00"/>
<circle cx="576.70" cy="200.80" r="2.50" fill="#fff" stroke="#ff8080" stroke-width="1.00"/>
<circle cx="586.80" cy="206.30" r="2.50" fill="#fff" stroke="#ff8080" stroke-width="1.00"/>
<circle cx="596.89" cy="212.80" r="2.50" fill="#fff" stroke="#ff8080" stroke-width="1.00"/>
<circle cx="606.99" cy="219.80" r="2.50" fill="#fff" stroke="#ff8080" stroke-width="1.00"/>
<circle cx="617.09" cy="224.70" r="2.50" fill="#fff" stroke="#ff8080" stroke-width="1.00"/>
<circle cx="627.18" cy="227.20" r="2.50" fill="#fff" stroke="#ff8080" stroke-width="1.00"/>
<circle cx="637.28" cy="230.40" r="2.50" fill="#fff" stroke="#ff8080" stroke-width="1.00"/>
<circle cx="647.37" cy="231.50" r="2.50" fill="#fff" stroke="#ff8080" stroke-width="1.00"/>
<circle cx="657.47" cy="227.80" r="2.50" fill="#fff" stroke="#ff8080" stroke-width="1.00"/>
<circle cx="667.57" cy="225.80" r="2.50" fill="#fff" stroke="#ff8080" stroke-width="1.00"/>
<circle cx="677.66" cy="233.00" r="2.50" fill="#fff" stroke="#ff8080" stroke-width="1.00"/>
<circle cx="687.76" cy="235.00" r="2.50" fill="#fff" stroke="#ff8080" stroke-width="1.00"/>
<circle cx="697.85" cy="231.40" r="2.50" fill="#fff" stroke="#ff8080" stroke-width="1.00"/>
<circle cx="707.95" cy="231.40" r="2.50" fill="#fff" stroke="#ff8080" stroke-width="1.00"/>
<path d="M455.55 52.60 C457.23 54.05 462.28 58.57 465.65 61.30 C469.01 64.03 472.38 66.77 475.74 69.00 C479.11 71.23 482.47 73.40 485.84 74.70 C489.20 76.00 492.57 76.12 495.93 76.80 C499.30 77.48 502.66 77.82 506.03 78.80 C509.40 79.78 512.76 81.10 516.13 82.70 C519.49 84.30 522.86 86.48 526.22 88.40 C529.59 90.32 532.95 92.23 536.32 94.20 C539.68 96.17 543.05 98.32 546.41 100.20 C549.78 102.08 553.14 104.12 556.51 105.50 C559.88 106.88 563.24 107.67 566.61 108.50 C569.97 109.33 573.34 109.72 576.70 110.50 C580.07 111.28 583.43 112.93 586.80 113.20 C590.16 113.47 593.53 112.95 596.89 112.10 C600.26 111.25 604.21 107.70 606.99 108.10 C609.77 108.50 611.92 113.83 613.60 114.50 C615.28 115.17 614.82 112.50 617.09 112.10 C619.35 111.70 623.82 111.92 627.18 112.10 C630.55 112.28 633.91 112.55 637.28 113.20 C640.64 113.85 644.01 115.10 647.37 116.00 C650.74 116.90 654.10 117.75 657.47 118.60 C660.84 119.45 664.20 120.15 667.57 121.10 C670.93 122.05 674.30 122.33 677.66 124.30 C681.03 126.27 684.39 130.23 687.76 132.90 C691.12 135.57 694.49 138.55 697.85 140.30 C701.22 142.05 706.27 142.88 707.95 143.40" fill="none" stroke="#0000ff" stroke-width="1.45" stroke-linejoin="round"/>
<polygon points="455.55,49.50 458.45,54.80 452.65,54.80" fill="#0000ff" stroke="#0000ff" stroke-width="0.30" stroke-linejoin="round"/>
<polygon points="465.65,58.20 468.55,63.50 462.75,63.50" fill="#0000ff" stroke="#0000ff" stroke-width="0.30" stroke-linejoin="round"/>
<polygon points="475.74,65.90 478.64,71.20 472.84,71.20" fill="#0000ff" stroke="#0000ff" stroke-width="0.30" stroke-linejoin="round"/>
<polygon points="485.84,71.60 488.74,76.90 482.94,76.90" fill="#0000ff" stroke="#0000ff" stroke-width="0.30" stroke-linejoin="round"/>
<polygon points="495.93,73.70 498.83,79.00 493.03,79.00" fill="#0000ff" stroke="#0000ff" stroke-width="0.30" stroke-linejoin="round"/>
<polygon points="506.03,75.70 508.93,81.00 503.13,81.00" fill="#0000ff" stroke="#0000ff" stroke-width="0.30" stroke-linejoin="round"/>
<polygon points="516.13,79.60 519.03,84.90 513.23,84.90" fill="#0000ff" stroke="#0000ff" stroke-width="0.30" stroke-linejoin="round"/>
<polygon points="526.22,85.30 529.12,90.60 523.32,90.60" fill="#0000ff" stroke="#0000ff" stroke-width="0.30" stroke-linejoin="round"/>
<polygon points="536.32,91.10 539.22,96.40 533.42,96.40" fill="#0000ff" stroke="#0000ff" stroke-width="0.30" stroke-linejoin="round"/>
<polygon points="546.41,97.10 549.31,102.40 543.51,102.40" fill="#0000ff" stroke="#0000ff" stroke-width="0.30" stroke-linejoin="round"/>
<polygon points="556.51,102.40 559.41,107.70 553.61,107.70" fill="#0000ff" stroke="#0000ff" stroke-width="0.30" stroke-linejoin="round"/>
<polygon points="566.61,105.40 569.51,110.70 563.71,110.70" fill="#0000ff" stroke="#0000ff" stroke-width="0.30" stroke-linejoin="round"/>
<polygon points="576.70,107.40 579.60,112.70 573.80,112.70" fill="#0000ff" stroke="#0000ff" stroke-width="0.30" stroke-linejoin="round"/>
<polygon points="586.80,110.10 589.70,115.40 583.90,115.40" fill="#0000ff" stroke="#0000ff" stroke-width="0.30" stroke-linejoin="round"/>
<polygon points="596.89,109.00 599.79,114.30 593.99,114.30" fill="#0000ff" stroke="#0000ff" stroke-width="0.30" stroke-linejoin="round"/>
<polygon points="606.99,105.00 609.89,110.30 604.09,110.30" fill="#0000ff" stroke="#0000ff" stroke-width="0.30" stroke-linejoin="round"/>
<polygon points="617.09,109.00 619.99,114.30 614.19,114.30" fill="#0000ff" stroke="#0000ff" stroke-width="0.30" stroke-linejoin="round"/>
<polygon points="627.18,109.00 630.08,114.30 624.28,114.30" fill="#0000ff" stroke="#0000ff" stroke-width="0.30" stroke-linejoin="round"/>
<polygon points="637.28,110.10 640.18,115.40 634.38,115.40" fill="#0000ff" stroke="#0000ff" stroke-width="0.30" stroke-linejoin="round"/>
<polygon points="647.37,112.90 650.27,118.20 644.47,118.20" fill="#0000ff" stroke="#0000ff" stroke-width="0.30" stroke-linejoin="round"/>
<polygon points="657.47,115.50 660.37,120.80 654.57,120.80" fill="#0000ff" stroke="#0000ff" stroke-width="0.30" stroke-linejoin="round"/>
<polygon points="667.57,118.00 670.47,123.30 664.67,123.30" fill="#0000ff" stroke="#0000ff" stroke-width="0.30" stroke-linejoin="round"/>
<polygon points="677.66,121.20 680.56,126.50 674.76,126.50" fill="#0000ff" stroke="#0000ff" stroke-width="0.30" stroke-linejoin="round"/>
<polygon points="687.76,129.80 690.66,135.10 684.86,135.10" fill="#0000ff" stroke="#0000ff" stroke-width="0.30" stroke-linejoin="round"/>
<polygon points="697.85,137.20 700.75,142.50 694.95,142.50" fill="#0000ff" stroke="#0000ff" stroke-width="0.30" stroke-linejoin="round"/>
<polygon points="707.95,140.30 710.85,145.60 705.05,145.60" fill="#0000ff" stroke="#0000ff" stroke-width="0.30" stroke-linejoin="round"/>
<path d="M455.55 196.50 C457.23 196.47 462.28 196.57 465.65 196.30 C469.01 196.03 472.38 195.52 475.74 194.90 C479.11 194.28 482.47 193.53 485.84 192.60 C489.20 191.67 492.57 190.05 495.93 189.30 C499.30 188.55 502.66 188.40 506.03 188.10 C509.40 187.80 512.76 188.20 516.13 187.50 C519.49 186.80 522.86 184.77 526.22 183.90 C529.59 183.03 532.95 182.87 536.32 182.30 C539.68 181.73 543.05 180.85 546.41 180.50 C549.78 180.15 553.14 179.82 556.51 180.20 C559.88 180.58 563.24 181.72 566.61 182.80 C569.97 183.88 573.34 185.50 576.70 186.70 C580.07 187.90 583.43 188.88 586.80 190.00 C590.16 191.12 593.53 191.47 596.89 193.40 C600.26 195.33 603.62 198.98 606.99 201.60 C610.36 204.22 613.72 207.38 617.09 209.10 C620.45 210.82 623.82 211.08 627.18 211.90 C630.55 212.72 633.91 213.83 637.28 214.00 C640.64 214.17 644.01 213.35 647.37 212.90 C650.74 212.45 654.10 211.32 657.47 211.30 C660.84 211.28 664.20 211.87 667.57 212.80 C670.93 213.73 674.30 215.95 677.66 216.90 C681.03 217.85 684.39 219.03 687.76 218.50 C691.12 217.97 694.49 214.58 697.85 213.70 C701.22 212.82 706.27 213.28 707.95 213.20" fill="none" stroke="#0000ff" stroke-width="1.45" stroke-linejoin="round"/>
<polygon points="455.55,193.71 458.16,198.48 452.94,198.48" fill="#fff" stroke="#7070ff" stroke-width="1.00" stroke-linejoin="round"/>
<polygon points="465.65,193.51 468.26,198.28 463.04,198.28" fill="#fff" stroke="#7070ff" stroke-width="1.00" stroke-linejoin="round"/>
<polygon points="475.74,192.11 478.35,196.88 473.13,196.88" fill="#fff" stroke="#7070ff" stroke-width="1.00" stroke-linejoin="round"/>
<polygon points="485.84,189.81 488.45,194.58 483.23,194.58" fill="#fff" stroke="#7070ff" stroke-width="1.00" stroke-linejoin="round"/>
<polygon points="495.93,186.51 498.54,191.28 493.32,191.28" fill="#fff" stroke="#7070ff" stroke-width="1.00" stroke-linejoin="round"/>
<polygon points="506.03,185.31 508.64,190.08 503.42,190.08" fill="#fff" stroke="#7070ff" stroke-width="1.00" stroke-linejoin="round"/>
<polygon points="516.13,184.71 518.74,189.48 513.52,189.48" fill="#fff" stroke="#7070ff" stroke-width="1.00" stroke-linejoin="round"/>
<polygon points="526.22,181.11 528.83,185.88 523.61,185.88" fill="#fff" stroke="#7070ff" stroke-width="1.00" stroke-linejoin="round"/>
<polygon points="536.32,179.51 538.93,184.28 533.71,184.28" fill="#fff" stroke="#7070ff" stroke-width="1.00" stroke-linejoin="round"/>
<polygon points="546.41,177.71 549.02,182.48 543.80,182.48" fill="#fff" stroke="#7070ff" stroke-width="1.00" stroke-linejoin="round"/>
<polygon points="556.51,177.41 559.12,182.18 553.90,182.18" fill="#fff" stroke="#7070ff" stroke-width="1.00" stroke-linejoin="round"/>
<polygon points="566.61,180.01 569.22,184.78 564.00,184.78" fill="#fff" stroke="#7070ff" stroke-width="1.00" stroke-linejoin="round"/>
<polygon points="576.70,183.91 579.31,188.68 574.09,188.68" fill="#fff" stroke="#7070ff" stroke-width="1.00" stroke-linejoin="round"/>
<polygon points="586.80,187.21 589.41,191.98 584.19,191.98" fill="#fff" stroke="#7070ff" stroke-width="1.00" stroke-linejoin="round"/>
<polygon points="596.89,190.61 599.50,195.38 594.28,195.38" fill="#fff" stroke="#7070ff" stroke-width="1.00" stroke-linejoin="round"/>
<polygon points="606.99,198.81 609.60,203.58 604.38,203.58" fill="#fff" stroke="#7070ff" stroke-width="1.00" stroke-linejoin="round"/>
<polygon points="617.09,206.31 619.70,211.08 614.48,211.08" fill="#fff" stroke="#7070ff" stroke-width="1.00" stroke-linejoin="round"/>
<polygon points="627.18,209.11 629.79,213.88 624.57,213.88" fill="#fff" stroke="#7070ff" stroke-width="1.00" stroke-linejoin="round"/>
<polygon points="637.28,211.21 639.89,215.98 634.67,215.98" fill="#fff" stroke="#7070ff" stroke-width="1.00" stroke-linejoin="round"/>
<polygon points="647.37,210.11 649.98,214.88 644.76,214.88" fill="#fff" stroke="#7070ff" stroke-width="1.00" stroke-linejoin="round"/>
<polygon points="657.47,208.51 660.08,213.28 654.86,213.28" fill="#fff" stroke="#7070ff" stroke-width="1.00" stroke-linejoin="round"/>
<polygon points="667.57,210.01 670.18,214.78 664.96,214.78" fill="#fff" stroke="#7070ff" stroke-width="1.00" stroke-linejoin="round"/>
<polygon points="677.66,214.11 680.27,218.88 675.05,218.88" fill="#fff" stroke="#7070ff" stroke-width="1.00" stroke-linejoin="round"/>
<polygon points="687.76,215.71 690.37,220.48 685.15,220.48" fill="#fff" stroke="#7070ff" stroke-width="1.00" stroke-linejoin="round"/>
<polygon points="697.85,210.91 700.46,215.68 695.24,215.68" fill="#fff" stroke="#7070ff" stroke-width="1.00" stroke-linejoin="round"/>
<polygon points="707.95,210.41 710.56,215.18 705.34,215.18" fill="#fff" stroke="#7070ff" stroke-width="1.00" stroke-linejoin="round"/>
<line x1="77.30" y1="59.00" x2="103.10" y2="59.00" stroke="#000" stroke-width="1.4"/>
<rect x="87.90" y="56.70" width="4.60" height="4.60" fill="#000" stroke="#000" stroke-width="0.30"/>
<text x="0" y="0" transform="translate(105.60,64.00) scale(1,1.000)" font-size="13.00" font-weight="bold" text-anchor="start" ><tspan font-family="Liberation Serif" font-weight="bold" font-size="13">&#949;</tspan>'</text>
<line x1="117.40" y1="59.00" x2="143.20" y2="59.00" stroke="#000" stroke-width="1.4"/>
<rect x="128.30" y="57.00" width="4.00" height="4.00" fill="#fff" stroke="#505050" stroke-width="1.00"/>
<text x="0" y="0" transform="translate(145.70,64.00) scale(1,1.000)" font-size="13.00" font-weight="bold" text-anchor="start" ><tspan font-family="Liberation Serif" font-weight="bold" font-size="13">&#949;</tspan>''</text>
<text x="0" y="0" transform="translate(161.80,63.50) scale(1,1.000)" font-size="12.85" font-weight="bold" text-anchor="start" >CoNi</text>
<line x1="77.30" y1="75.70" x2="103.10" y2="75.70" stroke="#ff0000" stroke-width="1.4"/>
<circle cx="90.20" cy="75.70" r="2.60" fill="#ff0000" stroke="#ff0000" stroke-width="0.30"/>
<text x="0" y="0" transform="translate(105.60,80.70) scale(1,1.000)" font-size="13.00" font-weight="bold" text-anchor="start" ><tspan font-family="Liberation Serif" font-weight="bold" font-size="13">&#949;</tspan>'</text>
<line x1="117.40" y1="75.70" x2="143.20" y2="75.70" stroke="#ff0000" stroke-width="1.4"/>
<circle cx="130.30" cy="75.70" r="2.30" fill="#fff" stroke="#ff8080" stroke-width="1.00"/>
<text x="0" y="0" transform="translate(145.70,80.70) scale(1,1.000)" font-size="13.00" font-weight="bold" text-anchor="start" ><tspan font-family="Liberation Serif" font-weight="bold" font-size="13">&#949;</tspan>''</text>
<text x="0" y="0" transform="translate(161.80,80.20) scale(1,1.000)" font-size="12.85" font-weight="bold" text-anchor="start" >CoNi@TiO<tspan font-size="8.2" dy="0.6">2</tspan></text>
<line x1="77.30" y1="92.00" x2="103.10" y2="92.00" stroke="#0000ff" stroke-width="1.4"/>
<polygon points="90.20,88.90 93.10,94.20 87.30,94.20" fill="#0000ff" stroke="#0000ff" stroke-width="0.30" stroke-linejoin="round"/>
<text x="0" y="0" transform="translate(105.60,97.00) scale(1,1.000)" font-size="13.00" font-weight="bold" text-anchor="start" ><tspan font-family="Liberation Serif" font-weight="bold" font-size="13">&#949;</tspan>'</text>
<line x1="117.40" y1="92.00" x2="143.20" y2="92.00" stroke="#0000ff" stroke-width="1.4"/>
<polygon points="130.30,89.21 132.91,93.98 127.69,93.98" fill="#fff" stroke="#7070ff" stroke-width="1.00" stroke-linejoin="round"/>
<text x="0" y="0" transform="translate(145.70,97.00) scale(1,1.000)" font-size="13.00" font-weight="bold" text-anchor="start" ><tspan font-family="Liberation Serif" font-weight="bold" font-size="13">&#949;</tspan>''</text>
<text x="0" y="0" transform="translate(161.80,96.50) scale(1,1.000)" font-size="12.85" font-weight="bold" text-anchor="start" >CoNi@TiO<tspan font-size="8.2" dy="0.6">2</tspan><tspan dy="-0.6"> annealed</tspan></text>
<line x1="503.40" y1="21.60" x2="528.80" y2="21.60" stroke="#000" stroke-width="1.4"/>
<rect x="513.80" y="19.30" width="4.60" height="4.60" fill="#000" stroke="#000" stroke-width="0.30"/>
<text x="0" y="0" transform="translate(532.20,26.60) scale(1,1.000)" font-size="13.00" font-weight="bold" text-anchor="start" ><tspan font-family="Liberation Serif" font-weight="normal" font-size="13.5">&#956;</tspan>'</text>
<line x1="544.40" y1="21.60" x2="569.80" y2="21.60" stroke="#000" stroke-width="1.4"/>
<rect x="555.10" y="19.60" width="4.00" height="4.00" fill="#fff" stroke="#505050" stroke-width="1.00"/>
<text x="0" y="0" transform="translate(573.20,26.60) scale(1,1.000)" font-size="13.00" font-weight="bold" text-anchor="start" ><tspan font-family="Liberation Serif" font-weight="normal" font-size="13.5">&#956;</tspan>''</text>
<text x="0" y="0" transform="translate(588.70,26.10) scale(1,1.000)" font-size="12.85" font-weight="bold" text-anchor="start" >CoNi</text>
<line x1="503.40" y1="37.80" x2="528.80" y2="37.80" stroke="#ff0000" stroke-width="1.4"/>
<circle cx="516.10" cy="37.80" r="2.60" fill="#ff0000" stroke="#ff0000" stroke-width="0.30"/>
<text x="0" y="0" transform="translate(532.20,42.80) scale(1,1.000)" font-size="13.00" font-weight="bold" text-anchor="start" ><tspan font-family="Liberation Serif" font-weight="normal" font-size="13.5">&#956;</tspan>'</text>
<line x1="544.40" y1="37.80" x2="569.80" y2="37.80" stroke="#ff0000" stroke-width="1.4"/>
<circle cx="557.10" cy="37.80" r="2.30" fill="#fff" stroke="#ff8080" stroke-width="1.00"/>
<text x="0" y="0" transform="translate(573.20,42.80) scale(1,1.000)" font-size="13.00" font-weight="bold" text-anchor="start" ><tspan font-family="Liberation Serif" font-weight="normal" font-size="13.5">&#956;</tspan>''</text>
<text x="0" y="0" transform="translate(588.70,42.30) scale(1,1.000)" font-size="12.85" font-weight="bold" text-anchor="start" >CoNi@TiO<tspan font-size="8.2" dy="0.6">2</tspan></text>
<line x1="503.40" y1="53.40" x2="528.80" y2="53.40" stroke="#0000ff" stroke-width="1.4"/>
<polygon points="516.10,50.30 519.00,55.60 513.20,55.60" fill="#0000ff" stroke="#0000ff" stroke-width="0.30" stroke-linejoin="round"/>
<text x="0" y="0" transform="translate(532.20,58.40) scale(1,1.000)" font-size="13.00" font-weight="bold" text-anchor="start" ><tspan font-family="Liberation Serif" font-weight="normal" font-size="13.5">&#956;</tspan>'</text>
<line x1="544.40" y1="53.40" x2="569.80" y2="53.40" stroke="#0000ff" stroke-width="1.4"/>
<polygon points="557.10,50.61 559.71,55.38 554.49,55.38" fill="#fff" stroke="#7070ff" stroke-width="1.00" stroke-linejoin="round"/>
<text x="0" y="0" transform="translate(573.20,58.40) scale(1,1.000)" font-size="13.00" font-weight="bold" text-anchor="start" ><tspan font-family="Liberation Serif" font-weight="normal" font-size="13.5">&#956;</tspan>''</text>
<text x="0" y="0" transform="translate(588.70,57.90) scale(1,1.000)" font-size="12.85" font-weight="bold" text-anchor="start" >CoNi@TiO<tspan font-size="8.2" dy="0.6">2</tspan><tspan dy="-0.6"> annealed</tspan></text>
</svg>
</body></html>
